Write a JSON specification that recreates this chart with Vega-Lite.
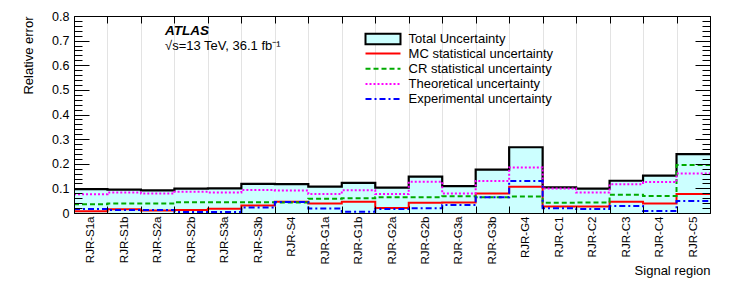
{
  "$schema": "https://vega.github.io/schema/vega-lite/v6.json",
  "autosize": "none",
  "width": 636,
  "height": 197,
  "padding": {"left": 74, "top": 16, "right": 37, "bottom": 93},
  "background": "white",
  "title": {
    "text": "ATLAS",
    "subtitle": "√s=13 TeV, 36.1 fb⁻¹",
    "anchor": "start",
    "frame": "group",
    "orient": "top",
    "offset": -42.5,
    "dx": 91,
    "font": "Liberation Sans",
    "fontSize": 13.5,
    "fontStyle": "italic",
    "fontWeight": "bold",
    "color": "black",
    "subtitleFont": "Liberation Sans",
    "subtitleFontSize": 13,
    "subtitleColor": "black",
    "subtitlePadding": 2.5
  },
  "datasets": {
    "regions": [
      {"region": "RJR-S1a", "total": 0.097, "mc": 0.007, "cr": 0.036, "theo": 0.076, "exp": 0.016},
      {"region": "RJR-S1b", "total": 0.095, "mc": 0.015, "cr": 0.039, "theo": 0.083, "exp": 0.012},
      {"region": "RJR-S2a", "total": 0.092, "mc": 0.010, "cr": 0.039, "theo": 0.079, "exp": 0.012},
      {"region": "RJR-S2b", "total": 0.099, "mc": 0.012, "cr": 0.044, "theo": 0.086, "exp": 0.004},
      {"region": "RJR-S3a", "total": 0.100, "mc": 0.017, "cr": 0.044, "theo": 0.083, "exp": 0.004},
      {"region": "RJR-S3b", "total": 0.118, "mc": 0.030, "cr": 0.044, "theo": 0.093, "exp": 0.022},
      {"region": "RJR-S4", "total": 0.117, "mc": 0.046, "cr": 0.043, "theo": 0.091, "exp": 0.045},
      {"region": "RJR-G1a", "total": 0.107, "mc": 0.039, "cr": 0.058, "theo": 0.077, "exp": 0.018},
      {"region": "RJR-G1b", "total": 0.122, "mc": 0.046, "cr": 0.060, "theo": 0.092, "exp": 0.005},
      {"region": "RJR-G2a", "total": 0.103, "mc": 0.020, "cr": 0.064, "theo": 0.077, "exp": 0.016},
      {"region": "RJR-G2b", "total": 0.148, "mc": 0.042, "cr": 0.064, "theo": 0.127, "exp": 0.019},
      {"region": "RJR-G3a", "total": 0.109, "mc": 0.043, "cr": 0.068, "theo": 0.079, "exp": 0.032},
      {"region": "RJR-G3b", "total": 0.176, "mc": 0.079, "cr": 0.064, "theo": 0.130, "exp": 0.064},
      {"region": "RJR-G4", "total": 0.267, "mc": 0.107, "cr": 0.067, "theo": 0.185, "exp": 0.130},
      {"region": "RJR-C1", "total": 0.104, "mc": 0.026, "cr": 0.042, "theo": 0.099, "exp": 0.019},
      {"region": "RJR-C2", "total": 0.099, "mc": 0.026, "cr": 0.043, "theo": 0.083, "exp": 0.016},
      {"region": "RJR-C3", "total": 0.131, "mc": 0.046, "cr": 0.074, "theo": 0.117, "exp": 0.028},
      {"region": "RJR-C4", "total": 0.152, "mc": 0.039, "cr": 0.069, "theo": 0.126, "exp": 0.008},
      {"region": "RJR-C5", "total": 0.239, "mc": 0.077, "cr": 0.195, "theo": 0.160, "exp": 0.049}
    ],
    "series": [
      {"key": "mc", "label": "MC statistical uncertainty"},
      {"key": "cr", "label": "CR statistical uncertainty"},
      {"key": "theo", "label": "Theoretical uncertainty"},
      {"key": "exp", "label": "Experimental uncertainty"}
    ]
  },
  "data": {"name": "regions"},
  "config": {
    "font": "Liberation Sans",
    "view": {"stroke": null},
    "axis": {
      "labelFont": "Liberation Sans",
      "titleFont": "Liberation Sans",
      "labelColor": "black",
      "titleColor": "black",
      "tickColor": "black",
      "domainColor": "black",
      "domainWidth": 1,
      "tickWidth": 1,
      "titleFontWeight": "normal"
    },
    "legend": {"labelFont": "Liberation Sans", "labelColor": "black"}
  },
  "resolve": {"scale": {"x": "independent", "y": "independent"}},
  "layer": [
    {
      "mark": {"type": "bar", "stroke": "black", "strokeWidth": 0},
      "encoding": {
        "x": {
          "field": "region",
          "type": "nominal",
          "sort": null,
          "scale": {"paddingInner": 0, "paddingOuter": 0},
          "axis": {
            "orient": "bottom",
            "labelAngle": -90,
            "labelFontSize": 11.5,
            "labelPadding": 3,
            "ticks": false,
            "tickSize": 0,
            "domain": false,
            "grid": true,
            "gridColor": "#e3e3e3",
            "gridWidth": 1,
            "tickBand": "extent",
            "title": "Signal region",
            "titleAnchor": "end",
            "titleFontSize": 13,
            "titlePadding": 1,
            "zindex": 0
          }
        },
        "y": {
          "field": "total",
          "type": "quantitative",
          "scale": {"domain": [0, 0.8], "nice": false},
          "axis": {
            "orient": "left",
            "values": [0, 0.02, 0.04, 0.06, 0.08, 0.1, 0.12, 0.14, 0.16, 0.18, 0.2, 0.22, 0.24, 0.26, 0.28, 0.3, 0.32, 0.34, 0.36, 0.38, 0.4, 0.42, 0.44, 0.46, 0.48, 0.5, 0.52, 0.54, 0.56, 0.58, 0.6, 0.62, 0.64, 0.66, 0.68, 0.7, 0.72, 0.74, 0.76, 0.78, 0.8],
            "labelExpr": "abs(datum.value*10 - round(datum.value*10)) < 0.001 ? (datum.value == 0 ? '0' : format(datum.value, '.1f')) : ''",
            "tickSize": {"condition": {"test": "abs(datum.value*10 - round(datum.value*10)) < 0.001", "value": -15}, "value": -8},
            "labelPadding": 20,
            "labelFontSize": 12.5,
            "grid": false,
            "title": "Relative error",
            "titleAnchor": "end",
            "titleFontSize": 13,
            "titlePadding": 16,
            "zindex": 1
          }
        },
        "fill": {
          "datum": "Total Uncertainty",
          "type": "nominal",
          "scale": {"range": ["#ccffff"]},
          "legend": {
            "orient": "none",
            "legendX": 302,
            "legendY": 16,
            "title": null,
            "padding": 0,
            "symbolType": "M-3,-0.9H3V0.9H-3Z",
            "symbolSize": 136,
            "symbolStrokeColor": "black",
            "symbolStrokeWidth": 2,
            "labelFontSize": 13,
            "labelOffset": 18.6
          }
        }
      }
    },
    {
      "transform": [
        {"window": [{"op": "row_number", "as": "idx"}]},
        {"bin": {"step": 1, "extent": [1, 20], "nice": false}, "field": "idx", "as": ["x0", "x1"]},
        {"fold": ["x0", "x1"], "as": ["edge", "xpos"]}
      ],
      "mark": {"type": "line", "color": "black", "strokeWidth": 2.2},
      "encoding": {
        "x": {
          "field": "xpos",
          "type": "quantitative",
          "scale": {"domain": [1, 20], "nice": false, "zero": false},
          "axis": {
            "orient": "bottom",
            "values": [1, 2, 3, 4, 5, 6, 7, 8, 9, 10, 11, 12, 13, 14, 15, 16, 17, 18, 19, 20],
            "labels": false,
            "tickSize": -7,
            "grid": false,
            "domain": true,
            "title": null,
            "zindex": 1
          }
        },
        "y": {
          "field": "total",
          "type": "quantitative",
          "scale": {"domain": [0, 0.8], "nice": false},
          "axis": {
            "orient": "right",
            "values": [0, 0.02, 0.04, 0.06, 0.08, 0.1, 0.12, 0.14, 0.16, 0.18, 0.2, 0.22, 0.24, 0.26, 0.28, 0.3, 0.32, 0.34, 0.36, 0.38, 0.4, 0.42, 0.44, 0.46, 0.48, 0.5, 0.52, 0.54, 0.56, 0.58, 0.6, 0.62, 0.64, 0.66, 0.68, 0.7, 0.72, 0.74, 0.76, 0.78, 0.8],
            "labels": false,
            "tickSize": {"condition": {"test": "abs(datum.value*10 - round(datum.value*10)) < 0.001", "value": -15}, "value": -8},
            "grid": false,
            "domain": true,
            "title": null,
            "zindex": 1
          }
        },
        "order": [{"field": "idx", "type": "quantitative"}, {"field": "edge", "type": "ordinal"}]
      }
    },
    {
      "transform": [
        {"window": [{"op": "row_number", "as": "idx"}]},
        {"bin": {"step": 1, "extent": [1, 20], "nice": false}, "field": "idx", "as": ["x0", "x1"]},
        {"fold": ["mc", "cr", "theo", "exp"], "as": ["key", "value"]},
        {"lookup": "key", "from": {"data": {"name": "series"}, "key": "key", "fields": ["label"]}},
        {"fold": ["x0", "x1"], "as": ["edge", "xpos"]}
      ],
      "mark": {"type": "line", "strokeWidth": 2},
      "encoding": {
        "x": {
          "field": "xpos",
          "type": "quantitative",
          "scale": {"domain": [1, 20], "nice": false, "zero": false},
          "axis": {
            "orient": "top",
            "values": [1, 2, 3, 4, 5, 6, 7, 8, 9, 10, 11, 12, 13, 14, 15, 16, 17, 18, 19, 20],
            "labels": false,
            "tickSize": -7,
            "grid": false,
            "domain": true,
            "title": null,
            "zindex": 1
          }
        },
        "y": {
          "field": "value",
          "type": "quantitative",
          "scale": {"domain": [0, 0.8], "nice": false},
          "axis": null
        },
        "color": {
          "field": "label",
          "type": "nominal",
          "scale": {
            "domain": ["MC statistical uncertainty", "CR statistical uncertainty", "Theoretical uncertainty", "Experimental uncertainty"],
            "range": ["#ff0000", "#00aa00", "#ff00ff", "#0000ff"]
          },
          "legend": {
            "orient": "none",
            "legendX": 302,
            "legendY": 30.5,
            "title": null,
            "padding": 0,
            "symbolType": "M-3,0H3",
            "symbolSize": 136,
            "symbolStrokeWidth": 2,
            "labelFontSize": 13,
            "labelOffset": 18.6,
            "rowPadding": 1.2
          }
        },
        "strokeDash": {
          "field": "label",
          "type": "nominal",
          "scale": {
            "domain": ["MC statistical uncertainty", "CR statistical uncertainty", "Theoretical uncertainty", "Experimental uncertainty"],
            "range": [[1, 0], [5, 3], [2, 2], [6, 3, 2, 3]]
          },
          "legend": {
            "orient": "none",
            "legendX": 302,
            "legendY": 30.5,
            "title": null,
            "padding": 0,
            "symbolType": "M-3,0H3",
            "symbolSize": 136,
            "symbolStrokeWidth": 2,
            "labelFontSize": 13,
            "labelOffset": 18.6,
            "rowPadding": 1.2
          }
        },
        "order": [{"field": "idx", "type": "quantitative"}, {"field": "edge", "type": "ordinal"}]
      }
    }
  ]
}
